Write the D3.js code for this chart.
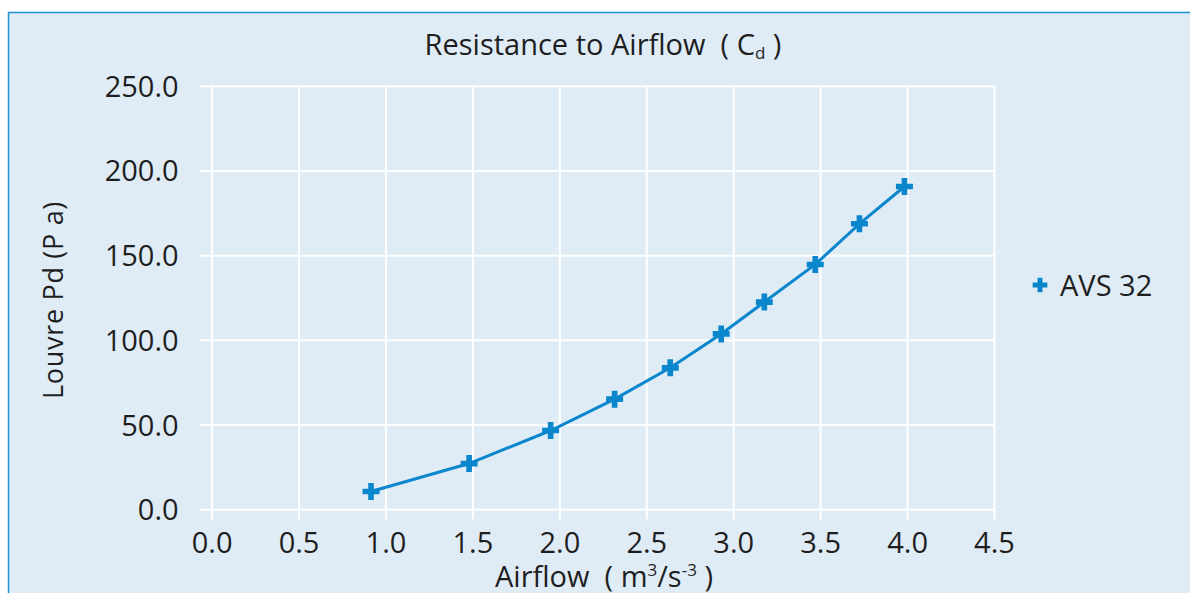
<!DOCTYPE html>
<html><head><meta charset="utf-8">
<script src="https://cdn.jsdelivr.net/npm/d3@7"></script>
<style>body{margin:0;background:#fff}svg{display:block}text{white-space:pre}</style>
</head><body><svg id="c" width="1190" height="593"></svg>
<script>
const airflow = [0.917, 1.481, 1.95, 2.318, 2.638, 2.931, 3.179, 3.472, 3.726, 3.985];
const louvrePd = [10.5, 27.0, 46.5, 65.0, 83.5, 103.5, 122.3, 144.5, 168.5, 190.5];
const seriesName = "AVS 32";
const xTicks = [0,0.5,1,1.5,2,2.5,3,3.5,4,4.5];
const yTicks = [0,50,100,150,200,250];

const svg = d3.select("#c");
const font = "'Open Sans', 'Noto Sans', sans-serif";
const blue = "#0a86cd";
const ink = "#1e1e1e";
svg.append("rect").attr("x",8.5).attr("y",12.5).attr("width",1200).attr("height",620)
  .attr("fill","#dfecf6").attr("stroke","#1a8fd2").attr("stroke-width",1.5);

const x = d3.scaleLinear().domain([0,4.5]).range([211.6,994]);
const y = d3.scaleLinear().domain([0,250]).range([509.3,85.7]);

const gx = svg.append("g").attr("transform",`translate(0,${y(0)})`)
  .call(d3.axisBottom(x).tickValues(xTicks).tickFormat(d3.format(".1f"))
    .tickSize(-(y(0)-y(250))).tickPadding(44));
gx.select(".domain").remove();
gx.selectAll(".tick line").attr("stroke","#fff").attr("stroke-width",2).attr("y1",10);
gx.selectAll(".tick text").attr("font-family",font).attr("font-size",29).attr("fill",ink).attr("dy","0");

const gy = svg.append("g").attr("transform",`translate(${x(0)},0)`)
  .call(d3.axisLeft(y).tickValues(yTicks).tickFormat(d3.format(".1f"))
    .tickSize(-(x(4.5)-x(0))).tickPadding(33));
gy.select(".domain").remove();
gy.selectAll(".tick line").attr("stroke","#fff").attr("stroke-width",2).attr("x1",-12);
gy.selectAll(".tick text").attr("font-family",font).attr("font-size",29).attr("fill",ink).attr("dy","0.36em");

const pts = airflow.map((a,i)=>[a,louvrePd[i]]);
svg.append("path").datum(pts).attr("fill","none").attr("stroke",blue).attr("stroke-width",3)
  .attr("d", d3.line().x(d=>x(d[0])).y(d=>y(d[1])));

const cross = d3.symbol().type(d3.symbolCross).size(160);
svg.selectAll(".m").data(pts).join("path").attr("class","m")
  .attr("transform",d=>`translate(${x(d[0])},${y(d[1])})`)
  .attr("d",cross).attr("fill",blue);

// legend
svg.append("path").attr("transform","translate(1040,285)").attr("d",d3.symbol().type(d3.symbolCross).size(120)).attr("fill",blue);
svg.append("text").attr("x",1060).attr("y",296).attr("font-family",font).attr("font-size",29).attr("fill",ink).text(seriesName);

// title
const t = svg.append("text").attr("x",603).attr("y",55).attr("text-anchor","middle")
  .attr("font-family",font).attr("font-size",29).attr("fill",ink);
t.append("tspan").text("Resistance to Airflow  ( C");
t.append("tspan").attr("font-size",17).attr("dy",4).text("d");
t.append("tspan").attr("dy",-4).text(" )");

// x title
const xt = svg.append("text").attr("x",604).attr("y",587).attr("text-anchor","middle")
  .attr("font-family",font).attr("font-size",29).attr("fill",ink);
xt.append("tspan").text("Airflow  ( m");
xt.append("tspan").attr("font-size",17).attr("dy",-11).text("3");
xt.append("tspan").attr("dy",11).text("/s");
xt.append("tspan").attr("font-size",17).attr("dy",-11).text("-3");
xt.append("tspan").attr("dy",11).text(" )");

// y title
svg.append("text").attr("transform","translate(63,300) rotate(-90)").attr("text-anchor","middle")
  .attr("font-family",font).attr("font-size",27).attr("letter-spacing",0.7).attr("fill",ink).text("Louvre Pd (P a)");
</script></body></html>
